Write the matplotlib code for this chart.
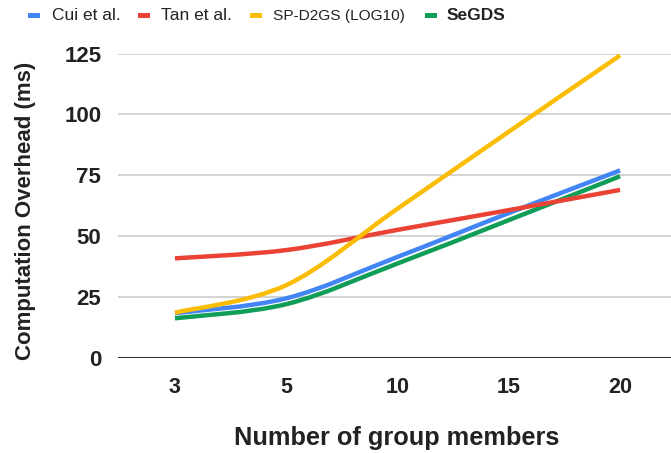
"""Computation overhead vs. number of group members (smooth line chart)."""

import matplotlib

matplotlib.use("Agg")
import matplotlib.pyplot as plt
from matplotlib.path import Path
from matplotlib.patches import PathPatch, Rectangle

plt.rcParams["font.family"] = ["Liberation Sans", "DejaVu Sans"]

# Datos
members = ["3", "5", "10", "15", "20"]
cui = [18.4, 24.5, 41.5, 59.5, 77.0]
tan = [40.9, 44.3, 52.6, 60.7, 69.0]
sp_d2gs = [18.6, 29.9, 61.3, 92.9, 124.2]
segds = [16.3, 22.1, 38.8, 56.6, 74.6]
y_ticks = [0, 25, 50, 75, 100, 125]

series = [
    ("Cui et al.", cui, "#4285F4"),
    ("Tan et al.", tan, "#EA4335"),
    ("SP-D2GS (LOG10)", sp_d2gs, "#FBBC04"),
    ("SeGDS", segds, "#0F9D58"),
]

W, H = 671, 453
fig = plt.figure(figsize=(W / 100, H / 100), dpi=100)


def fx(px):
    return px / W


def fy(py):
    return 1 - py / H


ax = fig.add_axes([fx(118), fy(358), fx(671 - 118), (358 - 53.5) / H])


def smooth_path(xs, ys):
    # Curva suave tipo Catmull-Rom convertida a segmentos Bezier cubicos.
    pts = list(zip(xs, ys))
    verts = [pts[0]]
    codes = [Path.MOVETO]
    n = len(pts)
    for i in range(n - 1):
        p0 = pts[max(i - 1, 0)]
        p1 = pts[i]
        p2 = pts[i + 1]
        p3 = pts[min(i + 2, n - 1)]
        c1 = (p1[0] + (p2[0] - p0[0]) / 6, p1[1] + (p2[1] - p0[1]) / 6)
        c2 = (p2[0] - (p3[0] - p1[0]) / 6, p2[1] - (p3[1] - p1[1]) / 6)
        verts += [c1, c2, p2]
        codes += [Path.CURVE4] * 3
    return Path(verts, codes)


xpos = list(range(len(members)))
order = {"SeGDS": 2, "Cui et al.": 3, "Tan et al.": 4, "SP-D2GS (LOG10)": 5}
for label, vals, color in series:
    patch = PathPatch(smooth_path(xpos, vals), facecolor="none", edgecolor=color,
                      lw=3.2, capstyle="butt", zorder=order[label], clip_on=False)
    ax.add_patch(patch)

ax.set_xlim(-0.512, 4.458)
ax.set_ylim(0, 125)
ax.set_xticks(xpos)
ax.set_xticklabels(members, fontsize=15.5, fontweight="bold", color="#222222")
ax.set_yticks(y_ticks)
ax.set_yticklabels([str(t) for t in y_ticks], fontsize=16, fontweight="bold",
                   color="#222222")
ax.tick_params(axis="both", length=0)
ax.tick_params(axis="x", pad=14)
ax.tick_params(axis="y", pad=12)

for t in y_ticks[1:]:
    ax.axhline(t, color="#cccccc", lw=1.2, zorder=1)
ax.axhline(0, color="#333333", lw=1.5, zorder=6)
for s in ax.spines.values():
    s.set_visible(False)

fig.text(fx(26), fy(211), "Computation Overhead (ms)", rotation=90,
         ha="center", va="center", fontsize=16, fontweight="bold",
         color="#222222")
fig.text(fx(397), fy(438), "Number of group members", ha="center",
         va="center", fontsize=18.3, fontweight="bold", color="#222222")

# Leyenda superior
legend_items = [
    (28, 52, 12.5, "normal"),
    (138, 161, 12.5, "normal"),
    (250, 273, 11.1, "normal"),
    (425, 447, 12.5, "bold"),
]
for (label, vals, color), (mx, tx, fs, fw) in zip(series, legend_items):
    fig.patches.append(Rectangle((fx(mx), fy(18)), fx(12), 4.5 / H,
                                 transform=fig.transFigure, facecolor=color,
                                 edgecolor="none"))
    fig.text(fx(tx), fy(16), label, ha="left", va="center", fontsize=fs,
             fontweight=fw, color="#222222")

fig.savefig("out.png", dpi=100)
